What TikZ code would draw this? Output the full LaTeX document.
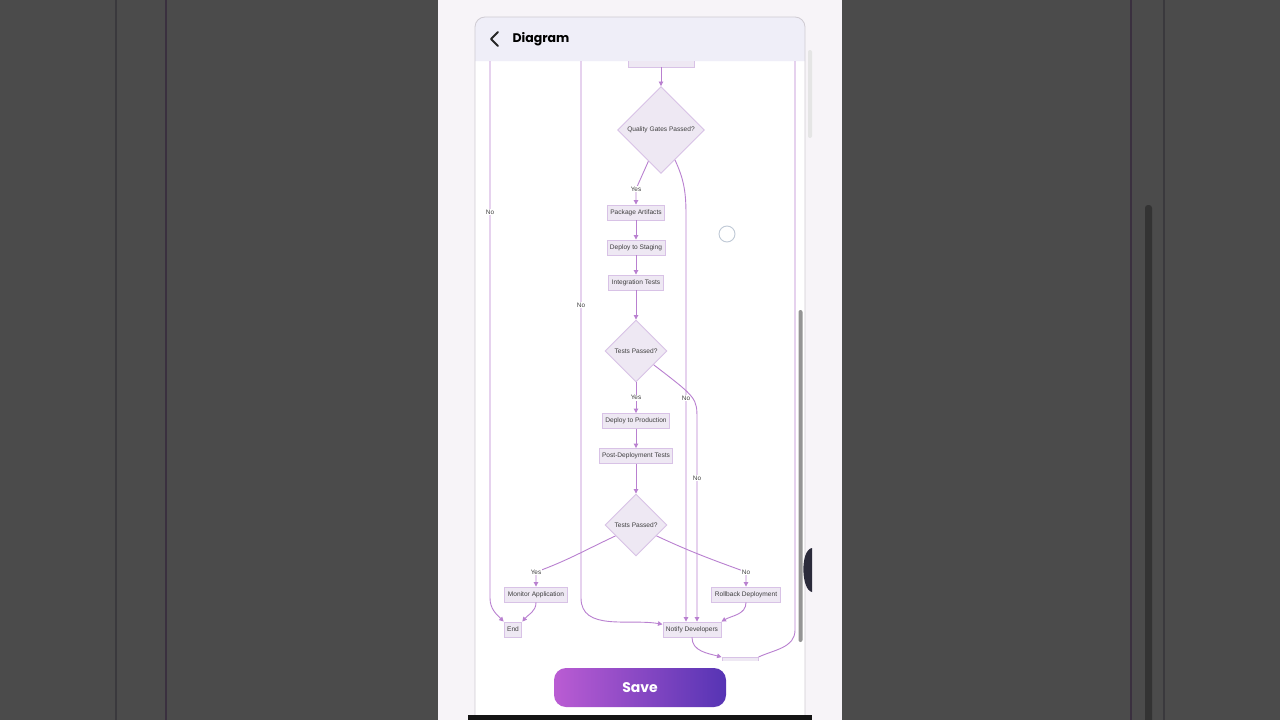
\documentclass[tikz,border=0pt]{standalone}
\usepackage{fontspec}
\setmainfont{Liberation Sans}
\newfontfamily\uifont{Poppins}
\usetikzlibrary{shapes.geometric,arrows.meta}

\definecolor{backdrop}{HTML}{4B4B4B}
\definecolor{seamA}{HTML}{3A393D}
\definecolor{seamB}{HTML}{3A303F}
\definecolor{screen}{HTML}{F7F4F8}
\definecolor{cardline}{HTML}{CFCBD2}
\definecolor{headfill}{HTML}{EFEEF8}
\definecolor{nodefill}{HTML}{EEE8F3}
\definecolor{nodeline}{HTML}{D8C2E6}
\definecolor{edgeline}{HTML}{B980D0}
\definecolor{labeltext}{HTML}{3F3F3F}
\definecolor{touch}{HTML}{BFC9D6}
\definecolor{knob}{HTML}{2B2B3B}
\definecolor{saveleft}{HTML}{BA5CD3}
\definecolor{saveright}{HTML}{5634B4}

\begin{document}
\begin{tikzpicture}[
        x=1pt, y=-1pt,
        N/.style = {rectangle, draw=nodeline, fill=nodefill, line width=0.9pt,% process steps
                font=\fontsize{6.6}{7.5}\selectfont, text=labeltext,
                minimum height=15pt, inner xsep=3pt, inner ysep=0pt},
        D/.style = {diamond, draw=nodeline, fill=nodefill, line width=0.9pt,% decisions
                font=\fontsize{6.6}{7.5}\selectfont, text=labeltext,
                aspect=1, inner sep=0pt, minimum size=#1},
        D/.default=62pt,
        E/.style = {draw=edgeline, line width=0.9pt,
                -{Triangle[length=4.5pt,width=4.5pt]}},
        L/.style = {fill=white, inner sep=0.6pt, text=labeltext,
                font=\fontsize{6.4}{7.5}\selectfont},
    ]
    \useasboundingbox (0,0) rectangle (1280,720);
    % dark surround
    \fill[backdrop] (0,0) rectangle (1280,720);
    \foreach \x/\c in {116/seamA,166/seamB,1131/seamB,1164/seamA}
        \draw[\c, line width=2pt] (\x,0) -- (\x,720);
    \fill[black!80, rounded corners=3pt] (1145,205) rectangle (1152,730);
    % phone screen and card
    \fill[screen] (438,0) rectangle (842,720);
    \fill[white, rounded corners=10pt] (475,17) rectangle (805,740);
    \fill[headfill] (475,61) [rounded corners=10pt] -- (475,17) -- (805,17)
        [sharp corners] -- (805,61) -- cycle;
    \draw[cardline, line width=0.8pt, rounded corners=10pt]
        (475,740) -- (475,17) -- (805,17) -- (805,740);
    \draw[black!85, line width=1.8pt, line cap=round, line join=round]
        (498,32) -- (491,39) -- (498,46);
    \node[anchor=west, font=\uifont\bfseries\fontsize{12.5}{15}\selectfont] (title) at (509,39.5) {Diagram};

    \begin{scope}
    \clip (476,61) rectangle (804,660);
    \coordinate (laneA) at (490,50);
    \coordinate (laneB) at (581,50);
    \coordinate (laneC) at (795,50);
    \coordinate (laneD) at (686,0);
    \coordinate (laneE) at (697,0);

    \node[N, minimum width=66pt] (scan) at (661,59.5) {};
    \node[D=87pt] (qg) at (661,130) {Quality Gates Passed?};
    \node[N] (pkg) at (636,212.5) {Package Artifacts};
    \node[N] (stg) at (636,247.5) {Deploy to Staging};
    \node[N] (itest) at (636,282.5) {Integration Tests};
    \node[D] (tp1) at (636,351) {Tests Passed?};
    \node[N] (prod) at (636,421) {Deploy to Production};
    \node[N] (post) at (636,456) {Post-Deployment Tests};
    \node[D] (tp2) at (636,525) {Tests Passed?};
    \node[N] (mon) at (536,594.5) {Monitor Application};
    \node[N] (rb) at (746,594.5) {Rollback Deployment};
    \node[N] (done) at (513,629.5) {End};
    \node[N] (notify) at (692,629.5) {Notify Developers};
    \node[N, minimum width=36pt] (fix) at (740,665) {};

    \draw[E] (scan) -- (qg);
    \draw[E] (qg.248) -- (636,189) node[L] {Yes} -- (pkg);
    \draw[E] (pkg) -- (stg);
    \draw[E] (stg) -- (itest);
    \draw[E] (itest) -- (tp1);
    \draw[E] (tp1) -- node[L] {Yes} (prod);
    \draw[E] (prod) -- (post);
    \draw[E] (post) -- (tp2);
    \draw[E] (tp2.208) to[out=205,in=20] (536,572) node[L] {Yes} -- (mon);
    \draw[E] (tp2.-28) to[out=-25,in=160] (746,572) node[L] {No} -- (rb);
    \draw[E] (mon) to[out=-90,in=50] (done.north east);
    \draw[E] (rb) to[out=-90,in=30] (notify.north east);
    % the No branches that run to the notification
    \draw[E] (qg.295) to[out=-65,in=90] (686,215) -- (686,398) node[L] {No}
        -- (laneD |- notify.north);
    \draw[E] (tp1.-38) .. controls (697,398) .. (697,420) -- (697,478) node[L] {No}
        -- (laneE |- notify.north);
    \draw[E] (laneA) -- (490,212) node[L] {No} -- (490,598)
        to[out=-90,in=135] (done.north west);
    \draw[E] (laneB) -- (581,305) node[L] {No} -- (581,598)
        to[out=-90,in=170] (notify.170);
    \draw[E] (notify) to[out=-90,in=165] (fix.north west);
    \draw[E, -] (fix.north east) to[out=25,in=-90] (795,630) -- (laneC);
    \end{scope}

    % touch marker and scroll bars
    \draw[touch, line width=0.9pt] (727,234) circle (8pt);
    \fill[black!10, rounded corners=2pt] (808,50) rectangle (812,138);
    \fill[black!42, rounded corners=2pt] (798.5,310) rectangle (802.5,642);
    \fill[knob] (812,548) .. controls (800,550) and (801,590) .. (812,592) -- cycle;
    % save button
    \shade[left color=saveleft, right color=saveright, rounded corners=12pt]
        (554,668) rectangle (726,707);
    \node[text=white, font=\uifont\bfseries\fontsize{14}{16}\selectfont] (save) at (640,687.5) {Save};
    \fill[black!92] (468,715) rectangle (812,720);
\end{tikzpicture}
\end{document}
